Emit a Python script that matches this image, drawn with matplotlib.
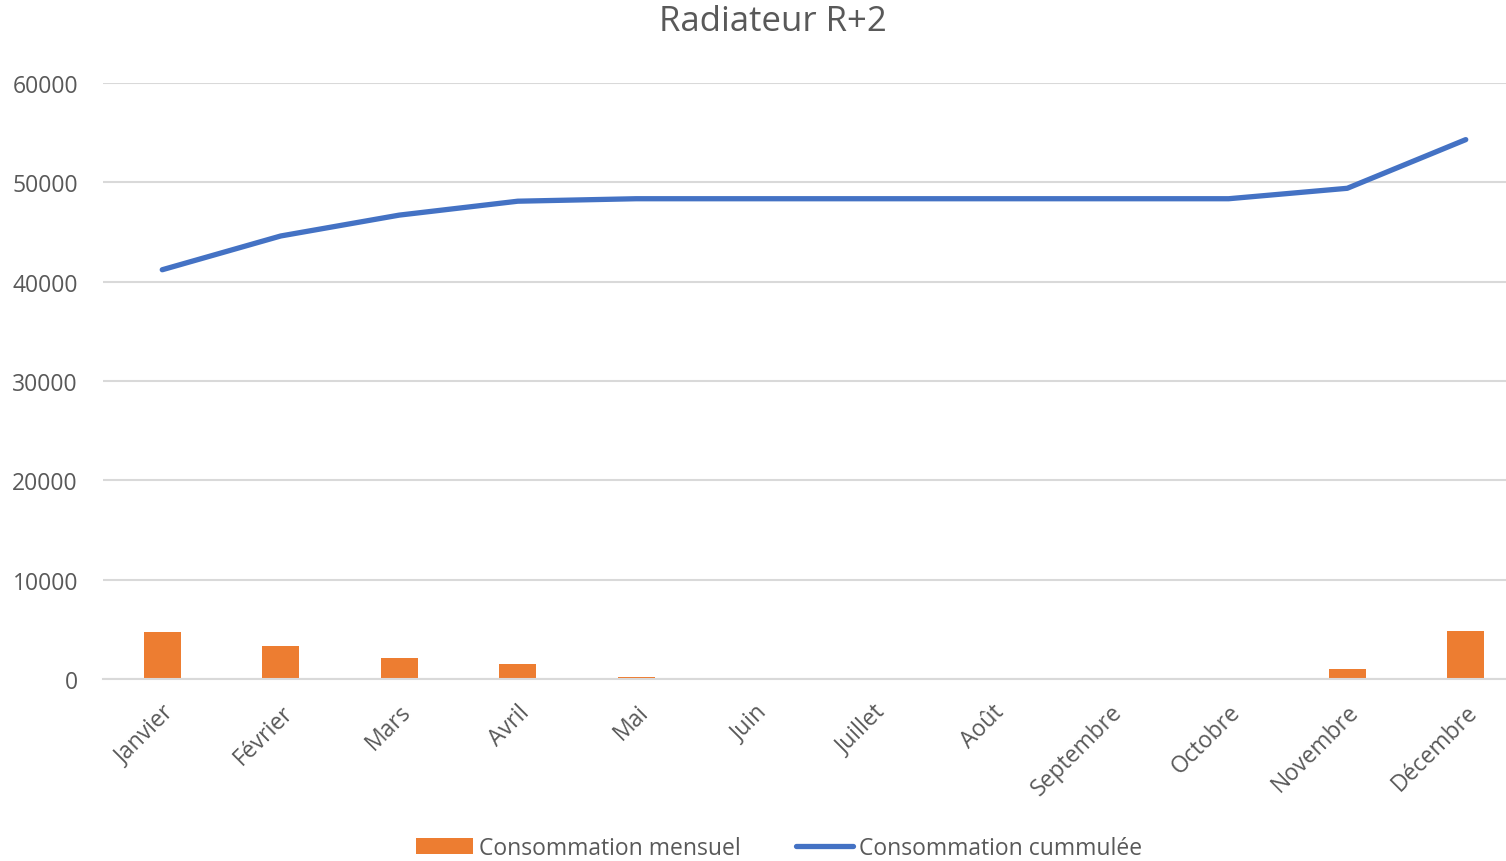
import numpy as np
import matplotlib
matplotlib.use("Agg")
from matplotlib import pyplot as plt
from matplotlib.patches import Patch
from matplotlib.lines import Line2D
from matplotlib.transforms import ScaledTranslation

# Data
mois = ["Janvier", "Février", "Mars", "Avril", "Mai", "Juin", "Juillet",
        "Août", "Septembre", "Octobre", "Novembre", "Décembre"]
conso_mensuel = [4730, 3350, 2100, 1500, 250, 0, 0, 0, 0, 0, 1000, 4830]
conso_cumulee = [41200, 44600, 46700, 48100, 48350, 48350, 48350,
                 48350, 48350, 48350, 49400, 54300]
y_ticks = [0, 10000, 20000, 30000, 40000, 50000, 60000]

orange = "#ED7D31"
blue = "#4472C4"
grid_col = "#D9D9D9"
text_col = "#595959"

plt.rcParams["font.family"] = ["Open Sans", "DejaVu Sans"]

W, H = 1506, 862
fig = plt.figure(figsize=(W / 100, H / 100), dpi=100)

# axes placed in pixel coordinates of the reference
left, right, bottom, top = 103, 1506, 680, 84
ax = fig.add_axes([left / W, 1 - bottom / H, (right - left) / W, (bottom - top) / H])

x = np.arange(len(mois))
step = 118.5
ax.bar(x, conso_mensuel, width=0.31, color=orange, zorder=2)
ax.plot(x, conso_cumulee, color=blue, linewidth=3.8, solid_capstyle="round",
        solid_joinstyle="round", zorder=3)

ax.set_xlim(-0.5, -0.5 + (right - left) / step)
ax.set_ylim(0, 60000)
ax.set_yticks(y_ticks)
ax.set_yticklabels([str(v) for v in y_ticks])
ax.set_xticks(x)
ax.set_xticklabels(mois, rotation=45, ha="right", rotation_mode="anchor")

# nudge month labels a few pixels to the left, like the original
shift = ScaledTranslation(-6 / 100, 0, fig.dpi_scale_trans)
for lbl in ax.get_xticklabels():
    lbl.set_transform(lbl.get_transform() + shift)

ax.grid(axis="y", color=grid_col, linewidth=1.5, zorder=0)
ax.set_axisbelow(True)
for side in ["top", "right", "left"]:
    ax.spines[side].set_visible(False)
ax.spines["bottom"].set_color(grid_col)
ax.spines["bottom"].set_linewidth(1.5)
ax.tick_params(axis="both", length=0, labelsize=16.5, colors=text_col)
ax.tick_params(axis="y", pad=18)
ax.tick_params(axis="x", pad=15)

fig.text(773 / W, 1 - 22 / H, "Radiateur R+2", ha="center", va="center",
         fontsize=25, color=text_col)

handles = [Patch(facecolor=orange, edgecolor="none"),
           Line2D([0], [0], color=blue, linewidth=3.8, solid_capstyle="round")]
fig.legend(handles, ["Consommation mensuel", "Consommation cummulée"],
           loc="center", bbox_to_anchor=(779 / W, 1 - 849 / H), ncol=2,
           frameon=False, fontsize=16.5, labelcolor=text_col,
           handlelength=2.5, handletextpad=0.25, columnspacing=2.4,
           handleheight=0.7)

fig.savefig("out.png", dpi=100)
